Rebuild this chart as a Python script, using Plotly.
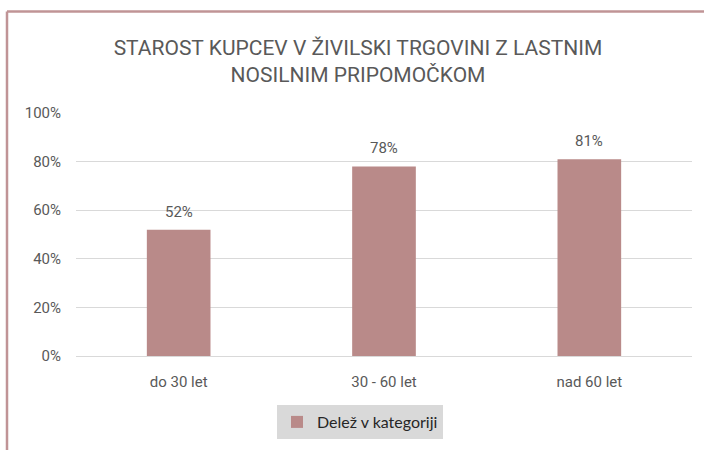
import plotly.graph_objects as go

categories = ["do 30 let", "30 - 60 let", "nad 60 let"]
values = [0.52, 0.78, 0.81]
series_name = "Delež v kategoriji"
title_text = "STAROST KUPCEV V ŽIVILSKI TRGOVINI Z LASTNIM<br>NOSILNIM PRIPOMOČKOM"

W, H = 704, 450
ml, mr, mt, mb = 76, 12, 113, 93
PW, PH = W - ml - mr, H - mt - mb
bar_color = "#B98A89"
txt = "#595959"
font_family = "Roboto"

fig = go.Figure()
fig.add_trace(go.Bar(
    x=categories, y=values, name=series_name,
    marker=dict(color=bar_color, line=dict(width=0)),
    width=0.31, hoverinfo="skip",
))

for c, v in zip(categories, values):
    fig.add_annotation(x=c, y=v, text=f"{round(v*100)}%", showarrow=False,
                       yshift=18, font=dict(family=font_family, size=15, color=txt))

fig.update_layout(
    width=W, height=H,
    margin=dict(l=ml, r=mr, t=mt, b=mb),
    paper_bgcolor="white", plot_bgcolor="white",
    title=dict(text=title_text, x=358 / W, xanchor="center",
               y=1 - 55 / H, yanchor="top",
               font=dict(family=font_family, size=21, color=txt)),
    showlegend=True,
    legend=dict(orientation="h", x=(360 - ml) / PW, xanchor="center",
                y=-(405 - mt - PH) / PH, yanchor="top",
                bgcolor="#D9D9D9", borderwidth=0,
                font=dict(family="Lato", size=16, color="#262626"),
                itemwidth=30),
    xaxis=dict(showline=False, ticks="", ticklabelstandoff=15,
               tickfont=dict(family=font_family, size=15, color=txt)),
    yaxis=dict(range=[0, 1], dtick=0.2, tickformat=".0%", showgrid=True,
               gridcolor="#D9D9D9", gridwidth=1, zeroline=True, zerolinecolor="#D9D9D9",
               zerolinewidth=1, ticks="", ticklabelstandoff=14,
               tickfont=dict(family=font_family, size=15, color=txt)),
    shapes=[
        dict(type="line", xref="paper", yref="paper",
             x0=(7 - ml) / PW, x1=(W - ml) / PW + 0.01,
             y0=1 + (mt - 11) / PH, y1=1 + (mt - 11) / PH,
             line=dict(color="#C09496", width=2.5)),
        dict(type="line", xref="paper", yref="paper",
             x0=(7 - ml) / PW, x1=(7 - ml) / PW,
             y0=1 + (mt - 11) / PH, y1=-(mb + 5) / PH,
             line=dict(color="#C09496", width=2.5)),
    ],
)

fig.write_html("out.html", config={"displayModeBar": False},
               post_script="document.body.style.margin='0';document.body.style.overflow='hidden';")
